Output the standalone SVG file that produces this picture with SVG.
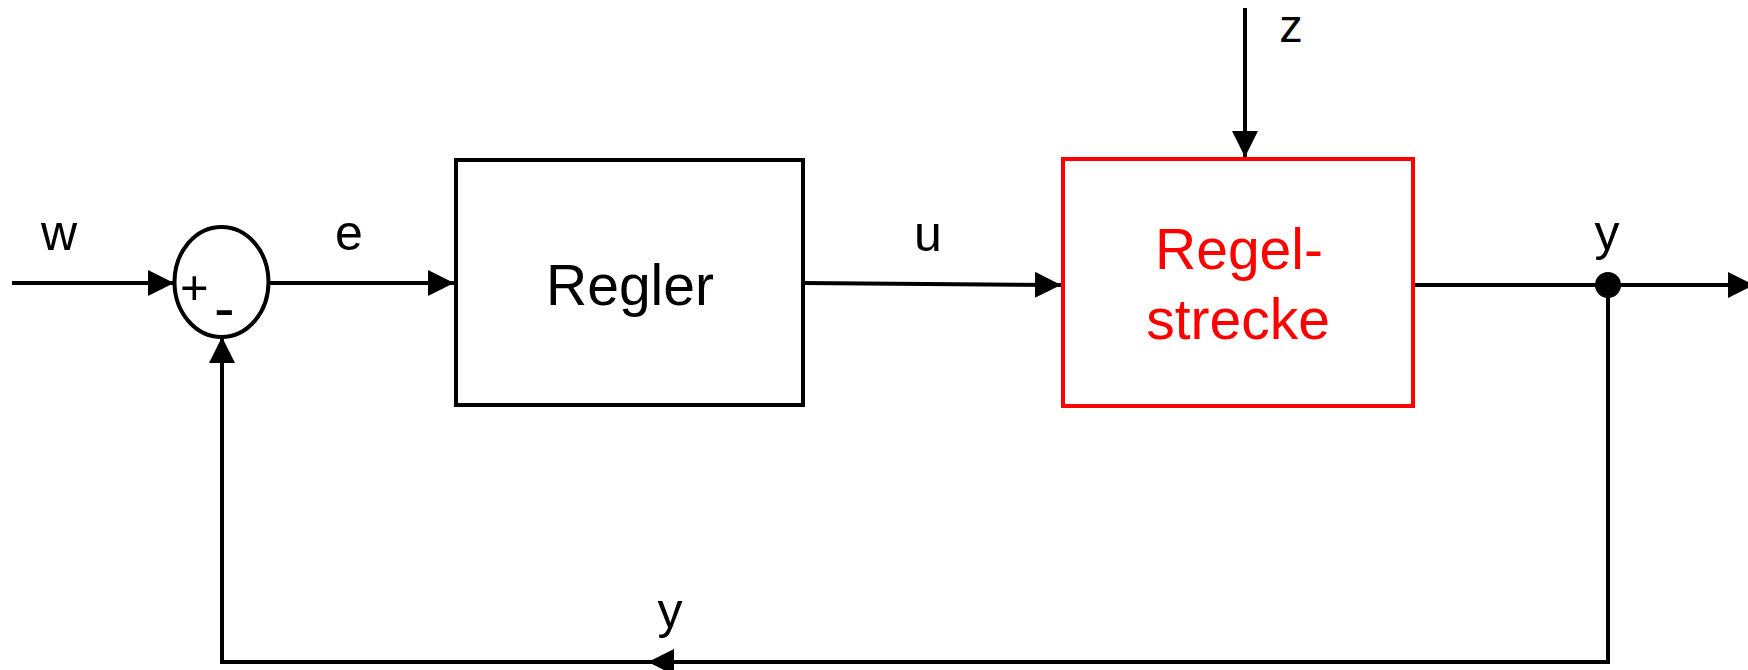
<svg xmlns="http://www.w3.org/2000/svg" width="1748" height="670" viewBox="0 0 1748 670">
<style>
.ln{fill:none;stroke:#000;stroke-width:4}
.box{fill:#fff;stroke:#000;stroke-width:4}
.red{fill:#fff;stroke:#f00;stroke-width:4}
.lbl{font-family:"Liberation Sans",Arial,sans-serif;font-size:50px;fill:#000;text-anchor:middle}
.big{font-family:"Liberation Sans",Arial,sans-serif;font-size:57px;text-anchor:middle}
</style>
<defs>
<marker id="ah" markerUnits="userSpaceOnUse" markerWidth="26" markerHeight="26" refX="26" refY="13" orient="auto" viewBox="0 0 26 26">
<path d="M0,0 L26,13 L0,26 z" fill="#000"/>
</marker>
</defs>
<rect width="1748" height="670" fill="#fff"/>
<g id="connectors">
<line class="ln" x1="12" y1="283" x2="174" y2="283" marker-end="url(#ah)"/>
<line class="ln" x1="269" y1="283" x2="454" y2="283" marker-end="url(#ah)"/>
<line class="ln" x1="803" y1="283" x2="1061" y2="285" marker-end="url(#ah)"/>
<line class="ln" x1="1245" y1="8" x2="1245" y2="157" marker-end="url(#ah)"/>
<line class="ln" x1="1413" y1="285" x2="1754" y2="285" marker-end="url(#ah)"/>
<polyline class="ln" points="1608,285 1608,662 648,662" marker-end="url(#ah)"/>
<polyline class="ln" points="650,662 222,662 222,337" marker-end="url(#ah)"/>
<circle cx="1608" cy="285" r="13" fill="#000"/>
<text class="lbl" x="59" y="250">w</text>
<text class="lbl" x="349" y="250">e</text>
<text class="lbl" x="928" y="251">u</text>
<text class="lbl" x="1291" y="42" style="font-size:47px">z</text>
<text class="lbl" x="1607" y="250">y</text>
<text class="lbl" x="670" y="628">y</text>
</g>
<g id="summer">
<ellipse cx="221.5" cy="282" rx="47" ry="55" fill="#fff" stroke="#000" stroke-width="4"/>
<text x="180" y="304" font-family="Liberation Sans, Arial, sans-serif" font-size="49">+</text>
<text x="214" y="329" font-family="Liberation Sans, Arial, sans-serif" font-size="62">-</text>
</g>
<g id="regler">
<rect class="box" x="456" y="160" width="347" height="245"/>
<text class="big" x="630" y="305" fill="#000">Regler</text>
</g>
<g id="regelstrecke">
<rect class="red" x="1063" y="159" width="350" height="247"/>
<text class="big" x="1239" y="269" fill="#f00">Regel-</text>
<text class="big" x="1238" y="339" fill="#f00">strecke</text>
</g>
</svg>
